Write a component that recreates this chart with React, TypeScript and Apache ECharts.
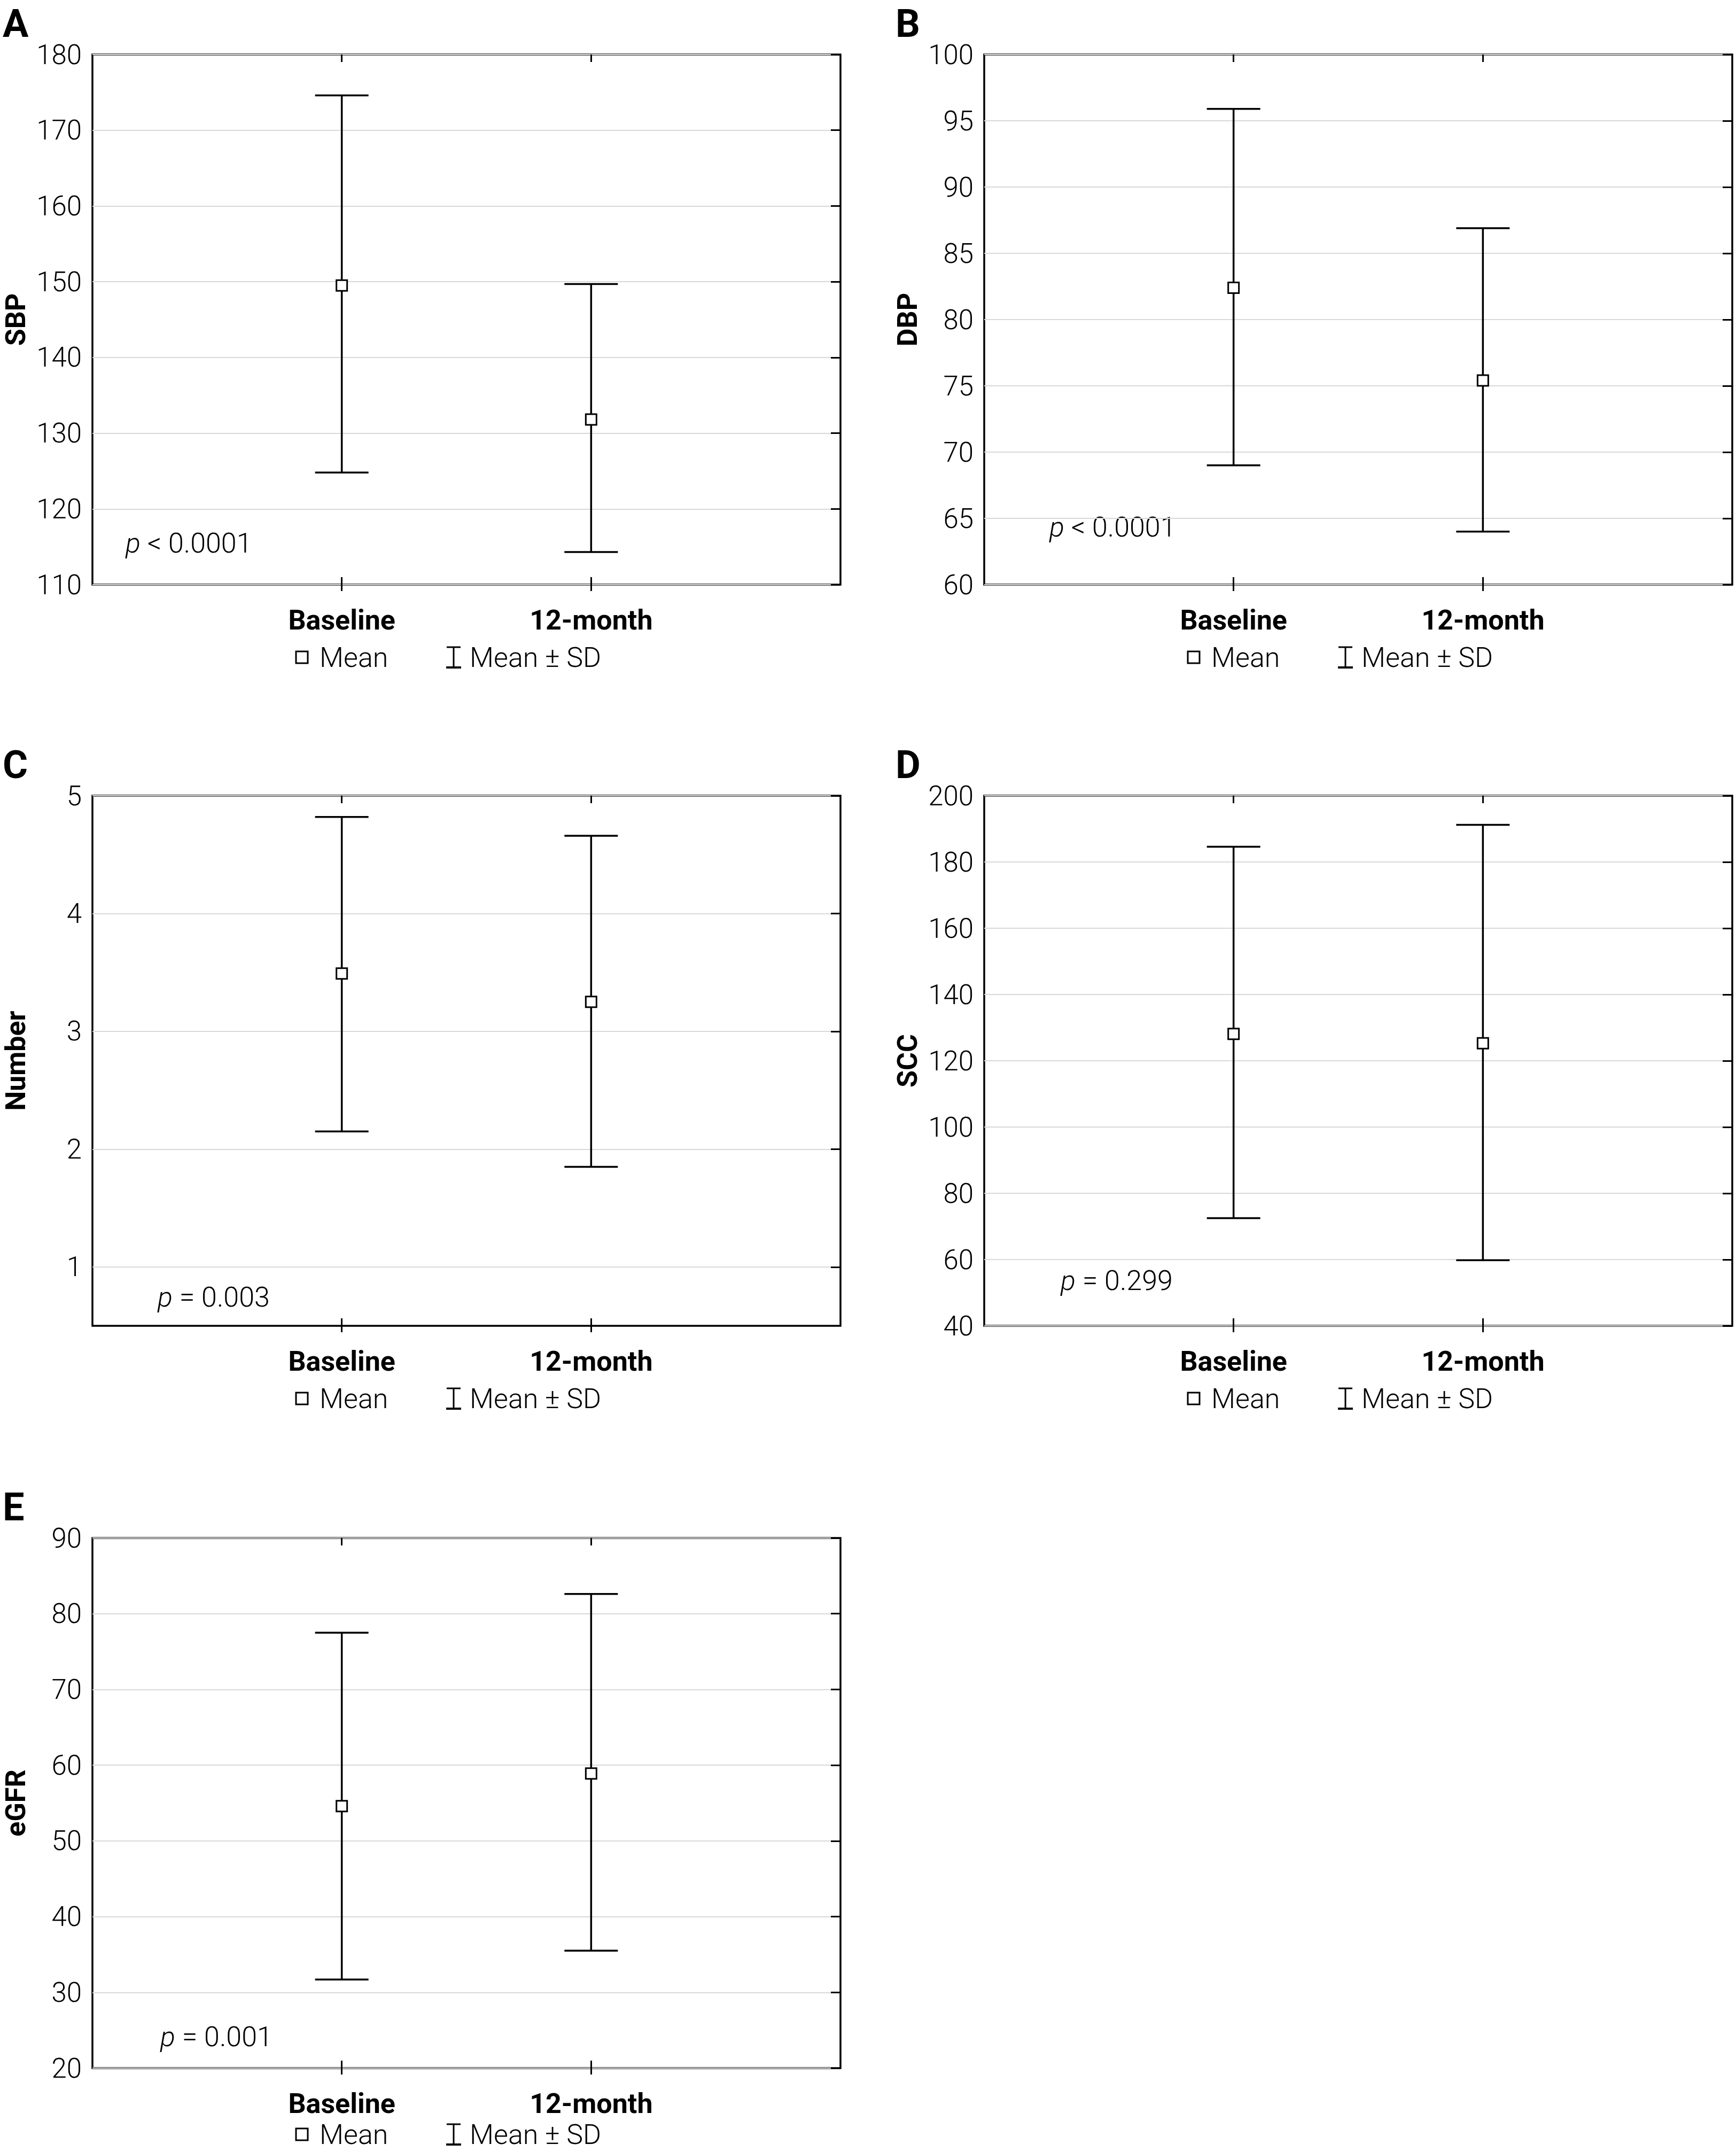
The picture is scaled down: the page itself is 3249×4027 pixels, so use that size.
import React, { useEffect, useRef } from 'react';
import * as echarts from 'echarts';

// ---------- data ----------
const categories = ['', 'Baseline', '12-month', ''];
const panelLetters = ['A', 'B', 'C', 'D', 'E'];
const yNames = ['SBP', 'DBP', 'Number', 'SCC', 'eGFR'];
const yMins = [110, 60, 0.5, 40, 20];
const yMaxs = [180, 100, 5, 200, 90];
const yTicksA = [110, 120, 130, 140, 150, 160, 170, 180];
const yTicksB = [60, 65, 70, 75, 80, 85, 90, 95, 100];
const yTicksC = [1, 2, 3, 4, 5];
const yTicksD = [40, 60, 80, 100, 120, 140, 160, 180, 200];
const yTicksE = [20, 30, 40, 50, 60, 70, 80, 90];
const yTicks = [yTicksA, yTicksB, yTicksC, yTicksD, yTicksE];

// [Baseline, 12-month]
const meanSBP = [149.5, 131.8];
const lowSBP = [124.8, 114.3];
const highSBP = [174.6, 149.7];
const meanDBP = [82.4, 75.4];
const lowDBP = [69.0, 64.0];
const highDBP = [95.9, 86.9];
const meanNum = [3.49, 3.25];
const lowNum = [2.15, 1.85];
const highNum = [4.82, 4.66];
const meanSCC = [128.1, 125.3];
const lowSCC = [72.5, 59.8];
const highSCC = [184.6, 191.2];
const meanEGFR = [54.6, 58.9];
const lowEGFR = [31.7, 35.5];
const highEGFR = [77.5, 82.6];

const means = [meanSBP, meanDBP, meanNum, meanSCC, meanEGFR];
const lows = [lowSBP, lowDBP, lowNum, lowSCC, lowEGFR];
const highs = [highSBP, highDBP, highNum, highSCC, highEGFR];
const pTexts = ['< 0.0001', '< 0.0001', '= 0.003', '= 0.299', '= 0.001'];

// ---------- layout ----------
const FONT = 'Roboto';
const GW = 1400;
const GH = 992;
const gridLefts = [173, 1842, 173, 1842, 173];
const gridTops = [102, 102, 1489, 1489, 2878];
const pOffsets = [
  [62, 914],
  [122, 884],
  [122, 938],
  [143, 907],
  [127, 933],
];
const legendOffsets = [136, 136, 136, 136, 124];
const letterLefts = [5, 1676, 5, 1676, 5];

function renderErrorBar(params: any, api: any) {
  const x = api.value(0);
  const lo = api.coord([x, api.value(1)]);
  const hi = api.coord([x, api.value(2)]);
  const half = 50;
  const style = { stroke: '#000', lineWidth: 3.5 };
  return {
    type: 'group',
    children: [
      { type: 'line', shape: { x1: lo[0], y1: lo[1], x2: hi[0], y2: hi[1] }, style },
      { type: 'line', shape: { x1: hi[0] - half, y1: hi[1], x2: hi[0] + half, y2: hi[1] }, style },
      { type: 'line', shape: { x1: lo[0] - half, y1: lo[1], x2: lo[0] + half, y2: lo[1] }, style },
    ],
  };
}

function buildOption() {
  const grid: any[] = [];
  const xAxis: any[] = [];
  const yAxis: any[] = [];
  const series: any[] = [];
  const graphic: any[] = [];

  for (let i = 0; i < 5; i++) {
    const left = gridLefts[i];
    const top = gridTops[i];
    grid.push({
      left,
      top,
      width: GW,
      height: GH,
      show: true,
      borderColor: '#000',
      borderWidth: 3.5,
      backgroundColor: 'transparent',
    });
    const tickInterval = (idx: number) => idx === 1 || idx === 2;
    xAxis.push({
      gridIndex: i,
      type: 'category',
      data: categories,
      boundaryGap: false,
      position: 'bottom',
      axisLine: { show: false },
      axisTick: { show: true, inside: true, length: 14, interval: tickInterval, lineStyle: { color: '#000', width: 3 } },
      axisLabel: { interval: 0, margin: 40, fontSize: 52, fontWeight: 'bold', color: '#000', fontFamily: FONT },
      splitLine: { show: false },
    });
    xAxis.push({
      gridIndex: i,
      type: 'category',
      data: categories,
      boundaryGap: false,
      position: 'bottom',
      axisLine: { show: false },
      axisTick: { show: true, inside: false, length: 12, interval: tickInterval, lineStyle: { color: '#000', width: 3 } },
      axisLabel: { show: false },
      splitLine: { show: false },
    });
    xAxis.push({
      gridIndex: i,
      type: 'category',
      data: categories,
      boundaryGap: false,
      position: 'top',
      axisLine: { show: false },
      axisTick: { show: true, inside: true, length: 14, interval: tickInterval, lineStyle: { color: '#000', width: 3 } },
      axisLabel: { show: false },
      splitLine: { show: false },
    });
    yAxis.push({
      gridIndex: i,
      type: 'value',
      min: yMins[i],
      max: yMaxs[i],
      position: 'left',
      axisLine: { show: false },
      axisTick: { show: false, customValues: yTicks[i] },
      axisLabel: {
        customValues: yTicks[i],
        margin: 20,
        fontSize: 51,
        fontWeight: 300,
        color: '#000',
        fontFamily: FONT,
      },
      splitLine: { show: true, lineStyle: { color: '#d9d9d9', width: 2 } },
      name: yNames[i],
      nameLocation: 'middle',
      nameGap: 118,
      nameTextStyle: { fontSize: 52, fontWeight: 'bold', color: '#000', fontFamily: FONT },
    });
    yAxis.push({
      gridIndex: i,
      type: 'value',
      min: yMins[i],
      max: yMaxs[i],
      position: 'right',
      axisLine: { show: false },
      axisTick: { show: true, inside: true, length: 18, customValues: yTicks[i], lineStyle: { color: '#000', width: 3 } },
      axisLabel: { show: false, customValues: yTicks[i] },
      splitLine: { show: false },
    });

    series.push({
      type: 'custom',
      xAxisIndex: 3 * i,
      yAxisIndex: 2 * i,
      renderItem: renderErrorBar,
      encode: { x: 0, y: [1, 2] },
      data: [
        [1, lows[i][0], highs[i][0]],
        [2, lows[i][1], highs[i][1]],
      ],
      z: 3,
    });
    series.push({
      type: 'scatter',
      xAxisIndex: 3 * i,
      yAxisIndex: 2 * i,
      symbol: 'rect',
      symbolSize: 20,
      itemStyle: { color: '#fff', borderColor: '#000', borderWidth: 3, opacity: 1 },
      data: [
        [1, means[i][0]],
        [2, means[i][1]],
      ],
      z: 5,
    });

    graphic.push({
      type: 'text',
      x: letterLefts[i],
      y: top - 94,
      style: {
        text: panelLetters[i],
        fontSize: 72,
        fontWeight: 'bold',
        fontFamily: FONT,
        fill: '#000',
        align: 'left',
        verticalAlign: 'top',
      },
    });
    graphic.push({
      type: 'text',
      x: left + pOffsets[i][0],
      y: top + pOffsets[i][1],
      style: {
        text: '{i|p} ' + pTexts[i],
        fontSize: 52,
        fontWeight: 300,
        fontFamily: FONT,
        fill: '#000',
        align: 'left',
        verticalAlign: 'middle',
        rich: {
          i: { fontStyle: 'italic', fontSize: 52, fontWeight: 300, fontFamily: FONT, fill: '#000' },
        },
      },
    });
    const ly = top + GH + legendOffsets[i];
    graphic.push({
      type: 'rect',
      shape: { x: left + 381, y: ly - 11, width: 22, height: 22 },
      style: { fill: '#fff', stroke: '#000', lineWidth: 3 },
    });
    graphic.push({
      type: 'text',
      x: left + 425,
      y: ly,
      style: { text: 'Mean', fontSize: 52, fontWeight: 300, fontFamily: FONT, fill: '#000', verticalAlign: 'middle' },
    });
    const ix = left + 676;
    graphic.push({ type: 'line', shape: { x1: ix - 13, y1: ly - 19, x2: ix + 13, y2: ly - 19 }, style: { stroke: '#000', lineWidth: 3 } });
    graphic.push({ type: 'line', shape: { x1: ix, y1: ly - 19, x2: ix, y2: ly + 19 }, style: { stroke: '#000', lineWidth: 3 } });
    graphic.push({ type: 'line', shape: { x1: ix - 14, y1: ly + 19, x2: ix + 14, y2: ly + 19 }, style: { stroke: '#000', lineWidth: 4 } });
    graphic.push({
      type: 'text',
      x: left + 706,
      y: ly,
      style: { text: 'Mean ± SD', fontSize: 52, fontWeight: 300, fontFamily: FONT, fill: '#000', verticalAlign: 'middle' },
    });
  }

  return {
    animation: false,
    backgroundColor: '#fff',
    textStyle: { fontFamily: FONT },
    grid,
    xAxis,
    yAxis,
    series,
    graphic,
  };
}

export default function App() {
  const ref = useRef<HTMLDivElement>(null);
  useEffect(() => {
    if (!ref.current) return;
    const chart = echarts.init(ref.current, undefined, { renderer: 'svg' });
    chart.setOption(buildOption() as any);
    return () => chart.dispose();
  }, []);
  return (
    <div
      ref={ref}
      style={{ position: 'absolute', left: 0, top: 0, width: 3249, height: 4027, background: '#fff' }}
    />
  );
}
